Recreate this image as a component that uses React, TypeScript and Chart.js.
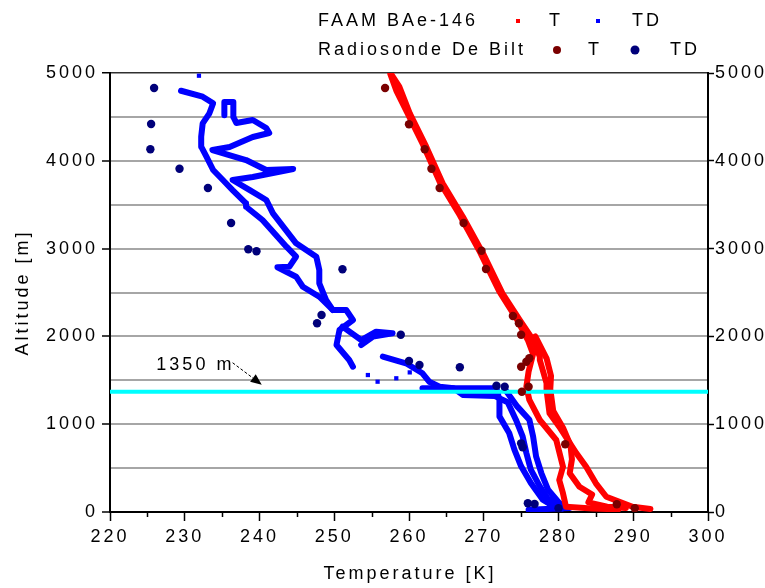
import React, { useEffect, useRef } from 'react';
import { Chart, registerables } from 'chart.js';

Chart.register(...registerables);

// ---------- data (temperature [K], altitude [m]) ----------
const xMajorTicks = [220, 230, 240, 250, 260, 270, 280, 290, 300];
const xMinorTicks = [225, 235, 245, 255, 265, 275, 285, 295];
const yTickLabels = [0, 1000, 2000, 3000, 4000, 5000];

const boundaryLayerTop = 1370; // cyan line, labelled "1350 m"

// FAAM BAe-146 temperature, several passes
const faamT1: [number, number][] = [
  [257.6, 4989], [258.7, 4844], [260.1, 4541], [262.3, 4161], [264.5, 3744], [267.2, 3363],
  [269.9, 2946], [272.5, 2491], [274.8, 2187], [276.6, 1959], [277.5, 1769], [277.5, 1731],
  [278.4, 1466], [278.4, 1390], [278.8, 1124], [280.1, 972], [282.4, 669], [283.7, 516],
  [285.0, 327], [286.4, 174], [289.9, 60], [292.3, 35],
];
const faamT2: [number, number][] = [
  [257.5, 4990], [258.3, 4800], [259.7, 4560], [261.9, 4180], [264.1, 3760], [266.8, 3380],
  [269.5, 2960], [272.1, 2510], [274.4, 2200], [275.9, 1959], [276.6, 1800], [276.0, 1600],
  [275.7, 1427], [276.1, 1276], [277.5, 1048], [279.7, 820], [280.6, 516], [280.1, 364],
  [280.6, 213], [281.0, 60], [284.5, 40], [288.0, 30],
];
const faamT3: [number, number][] = [
  [276.9, 2000], [278.4, 1750], [279.0, 1550], [278.9, 1400], [279.3, 1150], [280.6, 960],
  [281.6, 760], [281.8, 600], [281.5, 441], [282.8, 288], [284.5, 200], [284.0, 110],
  [286.5, 60], [289.0, 45],
];

// FAAM BAe-146 dew point, several passes
const faamTD1: [number, number][] = [
  [229.5, 4798], [232.4, 4730], [233.8, 4655], [233.3, 4541], [232.4, 4427], [232.2, 4275],
  [232.2, 4161], [232.9, 4047], [233.8, 3895], [235.1, 3781], [236.4, 3667], [238.2, 3516],
  [238.2, 3477], [240.4, 3326], [243.6, 3022], [244.9, 2908], [244.0, 2794], [242.4, 2787],
  [244.9, 2680], [245.8, 2566], [248.0, 2452], [249.8, 2301], [251.6, 2301], [252.5, 2187],
  [250.7, 2073], [250.3, 1902], [252.0, 1731], [252.5, 1655],
];
const faamTD2: [number, number][] = [
  [235.3, 4520], [235.3, 4670], [236.5, 4670], [236.5, 4500], [236.9, 4430], [239.1, 4465],
  [240.9, 4374], [241.3, 4317], [239.1, 4271], [236.0, 4157], [233.7, 4123], [238.2, 4009],
  [240.9, 3895], [244.5, 3907], [239.1, 3815], [236.4, 3781], [238.7, 3667], [240.9, 3554],
  [241.8, 3402], [244.9, 3060], [247.6, 2908], [248.0, 2756], [248.0, 2605], [248.9, 2415],
  [249.8, 2301],
];
const faamTD3: [number, number][] = [
  [251.1, 2111], [253.6, 1959], [255.6, 2054], [257.8, 2035], [255.2, 1997], [253.6, 1902],
];
const faamTD4: [number, number][] = [
  [256.5, 1769], [259.6, 1694], [261.8, 1580], [262.7, 1484], [264.1, 1427], [266.0, 1409],
  [271.7, 1409], [272.1, 1276], [272.1, 1089], [273.4, 900], [274.1, 710], [275.0, 520],
  [276.3, 330], [277.9, 140], [279.7, 46],
];
const faamTD5: [number, number][] = [
  [261.8, 1409], [266.0, 1409], [267.2, 1333], [271.5, 1320], [273.2, 1250], [274.3, 1051],
  [275.2, 861], [275.7, 672], [276.3, 482], [277.5, 292], [278.6, 150], [280.5, 40],
];
const faamTD6: [number, number][] = [
  [272.8, 1400], [274.5, 1200], [276.1, 1051], [276.6, 861], [277.0, 633], [277.7, 444],
  [278.6, 254], [280.1, 102], [281.5, 46], [276.0, 25],
];
const faamTDIsolated: [number, number][] = [
  [231.9, 4969], [254.5, 1560], [255.8, 1484], [258.3, 1523], [260.1, 1590],
];

// Radiosonde De Bilt
const sondeT: [number, number][] = [
  [256.8, 4829], [260.0, 4416], [262.1, 4131], [263.0, 3910], [264.1, 3690], [267.3, 3292],
  [269.7, 2976], [270.3, 2768], [273.9, 2232], [274.7, 2149], [275.0, 2019], [276.1, 1751],
  [275.7, 1712], [275.0, 1655], [276.0, 1427], [275.1, 1370], [280.9, 771], [287.8, 88],
  [290.2, 42],
];
const sondeTD: [number, number][] = [
  [225.9, 4829], [225.5, 4419], [225.4, 4131], [229.3, 3910], [233.1, 3690], [236.2, 3292],
  [238.5, 2992], [239.6, 2969], [251.1, 2764], [248.3, 2244], [247.7, 2149], [258.9, 2019],
  [260.0, 1720], [261.4, 1674], [266.8, 1648], [271.7, 1438], [272.8, 1427], [275.0, 782],
  [275.2, 737], [275.9, 99], [276.8, 91], [280.0, 42],
];

// ---------- styling ----------
const FONT = '"Liberation Sans", Arial, Helvetica, sans-serif';
const RED = '#ff0000';
const BLUE = '#0000ff';
const DARK_RED = '#7a0000';
const NAVY = '#00007a';
const CYAN = '#00ffff';

const toXY = (arr: [number, number][]) => arr.map(([x, y]) => ({ x, y }));

const lineDs = (data: [number, number][], color: string) => ({
  data: toXY(data),
  showLine: true,
  borderColor: color,
  backgroundColor: color,
  borderWidth: 6,
  pointRadius: 0,
  tension: 0,
  borderJoinStyle: 'round' as const,
  borderCapStyle: 'round' as const,
  order: 5,
});

const decorPlugin = {
  id: 'decor',
  beforeDraw(chart: any) {
    (chart.ctx as any).letterSpacing = '3px';
  },
  afterDraw(chart: any) {
    const ctx: CanvasRenderingContext2D = chart.ctx;
    const x = chart.scales.x;
    const y = chart.scales.y;
    const area = chart.chartArea;
    ctx.save();
    (ctx as any).letterSpacing = '3px';

    // minor x ticks
    ctx.strokeStyle = '#000';
    ctx.lineWidth = 1.5;
    for (const v of xMinorTicks) {
      const px = Math.round(x.getPixelForValue(v)) + 0.5;
      ctx.beginPath();
      ctx.moveTo(px, area.bottom);
      ctx.lineTo(px, area.bottom + 5);
      ctx.stroke();
    }

    // axis titles
    ctx.fillStyle = '#000';
    ctx.font = `18px ${FONT}`;
    ctx.textAlign = 'center';
    ctx.textBaseline = 'middle';
    ctx.fillText('Temperature [K]', (area.left + area.right) / 2 + 1, 574);
    ctx.save();
    ctx.translate(23, (area.top + area.bottom) / 2);
    ctx.rotate(-Math.PI / 2);
    ctx.fillText('Altitude [m]', 0, 0);
    ctx.restore();

    // legend
    ctx.textAlign = 'left';
    ctx.fillText('FAAM BAe-146', 318, 21);
    ctx.fillText('Radiosonde De Bilt', 318, 50);
    ctx.textAlign = 'center';
    ctx.fillText('T', 556, 21);
    ctx.fillText('T', 595, 50);
    ctx.textAlign = 'left';
    ctx.fillText('TD', 632, 21);
    ctx.fillText('TD', 670, 50);
    ctx.fillStyle = RED;
    ctx.fillRect(516, 19, 4, 4);
    ctx.fillStyle = BLUE;
    ctx.fillRect(596, 19, 4, 4);
    ctx.fillStyle = DARK_RED;
    ctx.beginPath();
    ctx.arc(557, 50, 4, 0, Math.PI * 2);
    ctx.fill();
    ctx.fillStyle = NAVY;
    ctx.beginPath();
    ctx.arc(635, 50, 4.5, 0, Math.PI * 2);
    ctx.fill();

    // annotation "1350 m" with dashed arrow
    ctx.fillStyle = '#000';
    ctx.textAlign = 'left';
    ctx.fillText('1350 m', x.getPixelForValue(226.2), y.getPixelForValue(1678));
    const x0 = x.getPixelForValue(236.4);
    const y0 = y.getPixelForValue(1700);
    const x1 = x.getPixelForValue(240.3);
    const y1 = y.getPixelForValue(1450);
    const ang = Math.atan2(y1 - y0, x1 - x0);
    ctx.strokeStyle = '#000';
    ctx.lineWidth = 1;
    ctx.setLineDash([3, 2]);
    ctx.beginPath();
    ctx.moveTo(x0, y0);
    ctx.lineTo(x1 - 8 * Math.cos(ang), y1 - 8 * Math.sin(ang));
    ctx.stroke();
    ctx.setLineDash([]);
    ctx.beginPath();
    ctx.moveTo(x1, y1);
    ctx.lineTo(x1 - 12 * Math.cos(ang - 0.4), y1 - 12 * Math.sin(ang - 0.4));
    ctx.lineTo(x1 - 12 * Math.cos(ang + 0.4), y1 - 12 * Math.sin(ang + 0.4));
    ctx.closePath();
    ctx.fill();

    ctx.restore();
  },
};

export default function App() {
  const ref = useRef<HTMLCanvasElement | null>(null);

  useEffect(() => {
    if (!ref.current) return;
    Chart.defaults.font.family = FONT;
    Chart.defaults.font.size = 18;
    Chart.defaults.color = '#000';

    const chart = new Chart(ref.current, {
      type: 'scatter',
      data: {
        datasets: [
          {
            data: toXY(sondeT),
            backgroundColor: DARK_RED,
            borderColor: DARK_RED,
            pointRadius: 4.2,
            pointBorderWidth: 0,
            order: 0,
          },
          {
            data: toXY(sondeTD),
            backgroundColor: NAVY,
            borderColor: NAVY,
            pointRadius: 4.2,
            pointBorderWidth: 0,
            order: 0,
          },
          {
            data: [
              { x: 220, y: boundaryLayerTop },
              { x: 300, y: boundaryLayerTop },
            ],
            showLine: true,
            borderColor: CYAN,
            borderWidth: 4,
            pointRadius: 0,
            order: 1,
          },
          {
            data: toXY(faamTDIsolated),
            backgroundColor: BLUE,
            borderColor: BLUE,
            pointStyle: 'rect',
            pointRadius: 3,
            pointBorderWidth: 0,
            order: 4,
          },
          lineDs(faamT1, RED),
          lineDs(faamT2, RED),
          lineDs(faamT3, RED),
          lineDs(faamTD1, BLUE),
          lineDs(faamTD2, BLUE),
          lineDs(faamTD3, BLUE),
          lineDs(faamTD4, BLUE),
          lineDs(faamTD5, BLUE),
          lineDs(faamTD6, BLUE),
        ],
      },
      options: {
        responsive: false,
        animation: false,
        devicePixelRatio: 1,
        layout: { padding: { top: 73, left: 0, right: 0, bottom: 0 } },
        plugins: {
          legend: { display: false },
          tooltip: { enabled: false },
        },
        scales: {
          x: {
            type: 'linear',
            position: 'bottom',
            min: 220,
            max: 300,
            afterBuildTicks: (s: any) => {
              s.ticks = xMajorTicks.map((v) => ({ value: v }));
            },
            ticks: { padding: 5, color: '#000', font: { size: 18 }, callback: (v: any) => String(v) },
            grid: { drawOnChartArea: false, tickLength: 9, tickColor: '#000', tickWidth: 1.5 },
            border: { color: '#000', width: 2 },
            afterFit: (s: any) => {
              s.height = 76;
            },
          },
          y: {
            type: 'linear',
            position: 'left',
            min: 0,
            max: 5000,
            ticks: {
              stepSize: 500,
              autoSkip: false,
              padding: 4,
              color: '#000',
              font: { size: 18 },
              callback: (v: any) => (yTickLabels.includes(Number(v)) ? String(v) : ''),
            },
            grid: {
              color: (c: any) => (c.tick && c.tick.value === 5000 ? '#303030' : '#a6a6a6'),
              lineWidth: (c: any) => (c.tick && c.tick.value === 5000 ? 1.5 : 2),
              tickLength: 8,
              tickColor: (c: any) =>
                c.tick && yTickLabels.includes(c.tick.value) ? '#000' : 'rgba(0,0,0,0)',
              tickWidth: 1.5,
            },
            border: { color: '#000', width: 2 },
            afterFit: (s: any) => {
              s.width = 110;
            },
          },
          y2: {
            type: 'linear',
            position: 'right',
            min: 0,
            max: 5000,
            afterBuildTicks: (s: any) => {
              s.ticks = yTickLabels.map((v) => ({ value: v }));
            },
            ticks: { padding: 1, color: '#000', font: { size: 18 }, callback: (v: any) => String(v) },
            grid: { drawOnChartArea: false, tickLength: 6, tickColor: '#000', tickWidth: 1.5 },
            border: { color: '#000', width: 2 },
            afterFit: (s: any) => {
              s.width = 57;
            },
          },
        },
      },
      plugins: [decorPlugin],
    } as any);

    return () => chart.destroy();
  }, []);

  return (
    <div style={{ position: 'absolute', left: 0, top: 0, width: 765, height: 588, background: '#fff' }}>
      <canvas ref={ref} width={765} height={588} style={{ display: 'block' }} />
    </div>
  );
}
